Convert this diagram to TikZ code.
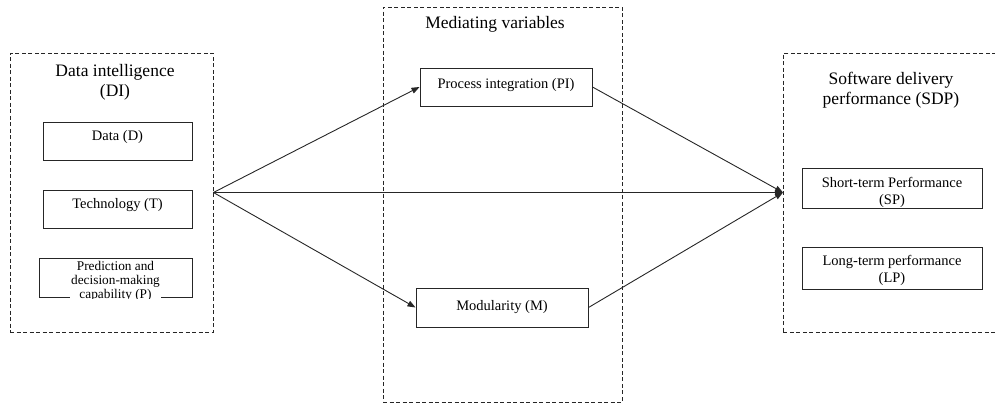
\documentclass[tikz,border=0pt]{standalone}
\usepackage{fontspec}
\setmainfont{Liberation Serif}
\usepackage{tikz}
\usetikzlibrary{arrows.meta}
\usetikzlibrary{positioning}
\tikzstyle{groupbox} = [rectangle, draw=black!85, line width=0.9pt, dash pattern=on 4pt off 2.5pt]
\tikzstyle{heading} = [align=center, inner sep=0pt, font=\fontsize{17.5}{20}\selectfont]
\tikzstyle{varbox} = [rectangle, draw=black!85, line width=1pt, inner sep=0pt, text centered, font=\fontsize{14.5}{17}\selectfont]
\tikzstyle{arrow} = [line width=0.9pt, draw=black!85, -{Triangle[length=8pt,width=6pt]}]

\begin{document}
\begin{tikzpicture}[x=1pt, y=-1pt]
    \useasboundingbox (0,0) rectangle (995,405);

    \node (di) [groupbox, minimum width=203pt, minimum height=279pt] at (111.5,192.5) {};
    \node (mv) [groupbox, minimum width=239pt, minimum height=395pt] at (502.5,204.5) {};
    \node (sdp) [groupbox, minimum width=240pt, minimum height=279pt, anchor=west] at (783,192.5) {};

    \node (dititle) [heading, anchor=north] at (115,64) {Data intelligence\\(DI)};
    \node (mvtitle) [heading, anchor=north] at (495,16) {Mediating variables};
    \node (sdptitle) [heading, anchor=north] at (891,72) {Software delivery\\performance (SDP)};

    \node (data) [varbox, minimum width=149pt, text height=18pt, text depth=20pt] at (117.5,141) {Data (D)};
    \node (tech) [varbox, minimum width=149pt, text height=18pt, text depth=20pt] at (117.5,209) {Technology (T)};
    \node (pred) [varbox, minimum width=153pt, minimum height=39pt] at (115.5,277.5) {};
    \begin{scope}
        \clip (pred.north west) rectangle ([yshift=-1pt]pred.south east);
        \node (predtext) [align=center, fill=white, inner sep=1pt, anchor=north,
            font=\fontsize{13.3}{13.6}\selectfont] at ([yshift=-3pt]pred.north) {Prediction and\\decision-making\\capability (P)};
    \end{scope}

    \node (pi) [varbox, minimum width=172pt, text height=20pt, text depth=18pt] at (506,87) {Process integration (PI)};
    \node (mod) [varbox, minimum width=172pt, text height=22pt, text depth=17pt] at (502,307.5) {Modularity (M)};

    \node (sp) [varbox, align=center, minimum width=180pt, text height=36pt, text depth=4pt] at (892,188) {Short-term Performance\\(SP)};
    \node (lp) [varbox, align=center, minimum width=180pt, text height=35pt, text depth=7pt] at (892,268) {Long-term performance\\(LP)};

    \draw [arrow] (di.east) -- (pi.west);
    \draw [arrow] (di.east) -- (mod.west);
    \draw [arrow] (di.east) -- (sdp.west);
    \draw [arrow] (pi.east) -- (sdp.west);
    \draw [arrow] (mod.east) -- (sdp.west);
\end{tikzpicture}
\end{document}
